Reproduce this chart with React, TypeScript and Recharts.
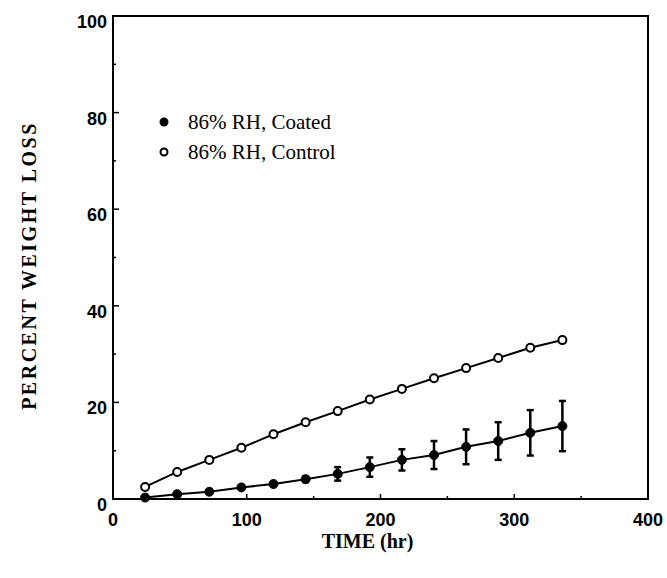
import {
  ComposedChart,
  Line,
  XAxis,
  YAxis,
  ErrorBar,
  ReferenceArea,
} from "recharts";

const hours = [24, 48, 72, 96, 120, 144, 168, 192, 216, 240, 264, 288, 312, 336];
const controlLoss = [2.5, 5.6, 8.1, 10.6, 13.4, 15.9, 18.2, 20.6, 22.8, 25.0, 27.1, 29.2, 31.3, 32.9];
const coatedLoss = [0.3, 1.0, 1.5, 2.4, 3.1, 4.1, 5.2, 6.6, 8.1, 9.1, 10.8, 12.0, 13.7, 15.1];
const coatedErr = [0, 0, 0, 0, 0.3, 0.6, 1.4, 2.0, 2.2, 2.9, 3.6, 3.9, 4.7, 5.2];

const xTicks = [0, 50, 100, 150, 200, 250, 300, 350, 400];
const yTicks = [0, 10, 20, 30, 40, 50, 60, 70, 80, 90, 100];

const data = hours.map((h, i) => ({
  hr: h,
  control: controlLoss[i],
  coated: coatedLoss[i],
  coatedErr: coatedErr[i],
}));

const tickFont = '"Liberation Sans", Arial, sans-serif';
const serif = '"Liberation Serif", "Times New Roman", serif';

// inward ticks: majors get a label, minors only a short mark
const XTick = (props: any) => {
  const { x, y, payload } = props;
  const major = payload.value % 100 === 0;
  return (
    <g>
      <line x1={x} x2={x} y1={y} y2={y - (major ? 5 : 3)} stroke="#000" strokeWidth={1.5} />
      {major && (
        <text x={x} y={y + 27} textAnchor="middle" fontFamily={tickFont} fontWeight="bold" fontSize={18} fill="#000">
          {payload.value}
        </text>
      )}
    </g>
  );
};

const YTick = (props: any) => {
  const { x, y, payload } = props;
  const major = payload.value % 20 === 0;
  return (
    <g>
      <line x1={x} x2={x + (major ? 6 : 3)} y1={y} y2={y} stroke="#000" strokeWidth={1.5} />
      {major && (
        <text x={x - 6} y={y + 12} textAnchor="end" fontFamily={tickFont} fontWeight="bold" fontSize={18} fill="#000">
          {payload.value}
        </text>
      )}
    </g>
  );
};

const ControlDot = (props: any) => {
  const { cx, cy } = props;
  return <circle cx={cx} cy={cy} r={4} fill="#fff" stroke="#000" strokeWidth={2} />;
};

const CoatedDot = (props: any) => {
  const { cx, cy } = props;
  return <circle cx={cx} cy={cy} r={4.5} fill="#000" stroke="#000" strokeWidth={1} />;
};

const XTitle = (props: any) => {
  const { viewBox } = props;
  const cx = viewBox.x + viewBox.width / 2 - 13;
  return (
    <text x={cx} y={viewBox.y + 49} textAnchor="middle" fontFamily={serif} fontWeight="bold" fontSize={20} fill="#000">
      TIME (hr)
    </text>
  );
};

const YTitle = (props: any) => {
  const { viewBox } = props;
  const cy = viewBox.y + viewBox.height / 2 + 8;
  return (
    <text
      x={36}
      y={cy}
      transform={`rotate(-90 36 ${cy})`}
      textAnchor="middle"
      fontFamily={serif}
      fontWeight="bold"
      fontSize={20}
      letterSpacing={2.5}
      fill="#000"
    >
      PERCENT WEIGHT LOSS
    </text>
  );
};

export default function App() {
  return (
    <div style={{ position: "absolute", left: 0, top: 0, width: 667, height: 578, background: "#fff" }}>
      <ComposedChart
        width={667}
        height={578}
        data={data}
        margin={{ top: 16, right: 19, left: 0, bottom: 0 }}
      >
        <XAxis
          dataKey="hr"
          type="number"
          domain={[0, 400]}
          ticks={xTicks}
          interval={0}
          height={79}
          tickSize={0}
          tickMargin={0}
          tickLine={false}
          tick={<XTick />}
          axisLine={{ stroke: "#000", strokeWidth: 2 }}
          label={<XTitle />}
        />
        <YAxis
          type="number"
          domain={[0, 100]}
          ticks={yTicks}
          interval={0}
          width={113}
          tickSize={0}
          tickMargin={0}
          tickLine={false}
          tick={<YTick />}
          axisLine={{ stroke: "#000", strokeWidth: 2 }}
          label={<YTitle />}
        />
        <ReferenceArea x1={0} x2={400} y1={0} y2={100} fill="none" stroke="#000" strokeWidth={2} />
        <Line
          dataKey="control"
          type="linear"
          stroke="#000"
          strokeWidth={2}
          dot={<ControlDot />}
          activeDot={false}
          isAnimationActive={false}
        />
        <Line
          dataKey="coated"
          type="linear"
          stroke="#000"
          strokeWidth={2}
          dot={<CoatedDot />}
          activeDot={false}
          isAnimationActive={false}
        >
          <ErrorBar dataKey="coatedErr" direction="y" width={3.5} stroke="#000" strokeWidth={2.5} isAnimationActive={false} />
        </Line>
      </ComposedChart>
      <svg width={230} height={60} style={{ position: "absolute", left: 150, top: 105 }}>
        <circle cx={14} cy={17} r={4.5} fill="#000" />
        <text x={38} y={24} fontFamily={serif} fontSize={21} fill="#000">86% RH, Coated</text>
        <circle cx={14} cy={47} r={3.5} fill="#fff" stroke="#000" strokeWidth={2} />
        <text x={38} y={54} fontFamily={serif} fontSize={21} fill="#000">86% RH, Control</text>
      </svg>
    </div>
  );
}
